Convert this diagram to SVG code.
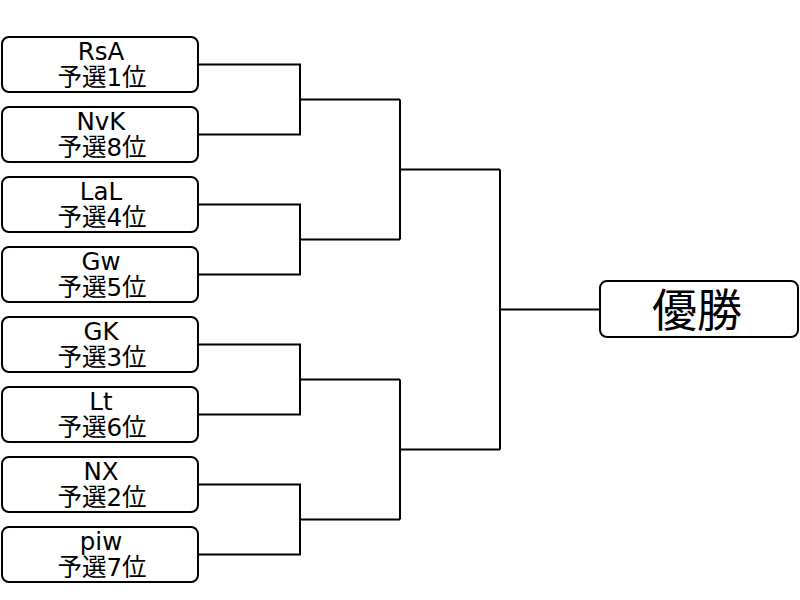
<svg xmlns="http://www.w3.org/2000/svg" width="800" height="600" viewBox="0 0 800 600">
<style>
.box{fill:#fff;stroke:#000;stroke-width:2}
.t{font-family:"DejaVu Sans","Noto Sans CJK JP",sans-serif;font-size:24.5px;fill:#000;text-anchor:middle}
.w{font-family:"Noto Sans CJK JP",sans-serif;font-size:45px;fill:#000;text-anchor:middle}
.c{fill:none;stroke:#000;stroke-width:2}
</style>
<rect width="800" height="600" fill="#fff"/>
<g id="connectors" class="c">
<path d="M198,64.5H300V134.5H198M300,99.5H400"/>
<path d="M198,204.5H300V274.5H198M300,239.5H400"/>
<path d="M198,344.5H300V414.5H198M300,379.5H400"/>
<path d="M198,484.5H300V554.5H198M300,519.5H400"/>
<path d="M400,99.5V239.5M400,169.5H500"/>
<path d="M400,379.5V519.5M400,449.5H500"/>
<path d="M500,169.5V449.5M500,309.5H600"/>
</g>
<g id="n1"><rect class="box" x="2" y="37" width="196" height="55" rx="7"/><text class="t" x="101" y="60">RsA</text><text class="t" x="102" y="86">予選1位</text></g>
<g id="n2"><rect class="box" x="2" y="107" width="196" height="55" rx="7"/><text class="t" x="101" y="130">NvK</text><text class="t" x="102" y="156">予選8位</text></g>
<g id="n3"><rect class="box" x="2" y="177" width="196" height="55" rx="7"/><text class="t" x="101" y="200">LaL</text><text class="t" x="102" y="226">予選4位</text></g>
<g id="n4"><rect class="box" x="2" y="247" width="196" height="55" rx="7"/><text class="t" x="101" y="270">Gw</text><text class="t" x="102" y="296">予選5位</text></g>
<g id="n5"><rect class="box" x="2" y="317" width="196" height="55" rx="7"/><text class="t" x="101" y="340">GK</text><text class="t" x="102" y="366">予選3位</text></g>
<g id="n6"><rect class="box" x="2" y="387" width="196" height="55" rx="7"/><text class="t" x="101" y="410">Lt</text><text class="t" x="102" y="436">予選6位</text></g>
<g id="n7"><rect class="box" x="2" y="457" width="196" height="55" rx="7"/><text class="t" x="101" y="480">NX</text><text class="t" x="102" y="506">予選2位</text></g>
<g id="n8"><rect class="box" x="2" y="527" width="196" height="55" rx="7"/><text class="t" x="101" y="550">piw</text><text class="t" x="102" y="576">予選7位</text></g>
<g id="winner"><rect class="box" x="600" y="281" width="198" height="56" rx="7"/><text class="w" x="697" y="327">優勝</text></g>
</svg>
